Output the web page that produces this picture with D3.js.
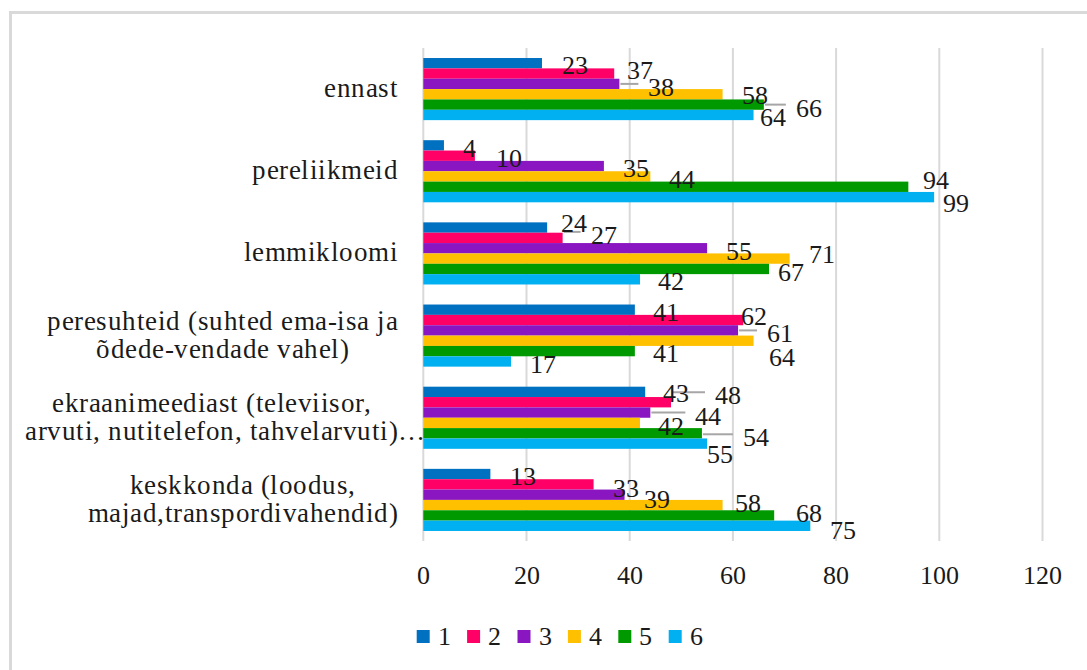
<!DOCTYPE html>
<html>
<head>
<meta charset="utf-8">
<script src="https://cdn.jsdelivr.net/npm/d3@7"></script>
<style>
  @font-face {
    font-family: 'ChartSerif';
    src: local('Liberation Serif'), local('LiberationSerif'), local('LiberationSerif-Regular'), local('Times New Roman');
  }
  body { margin: 0; }
  text { font-family: 'ChartSerif', 'Liberation Serif', serif; }
</style>
</head>
<body>
<div id="chart"></div>
<script>
const categories = [
  'ennast',
  'pereliikmeid',
  'lemmikloomi',
  'peresuhteid (suhted ema-isa ja\nõdede-vendade vahel)',
  'ekraanimeediast (televiisor,\narvuti, nutitelefon, tahvelarvuti)…',
  'keskkonda (loodus,\nmajad,transpordivahendid)'
];
const seriesNames = ['1', '2', '3', '4', '5', '6'];
const series1 = [23, 4, 24, 41, 43, 13];
const series2 = [37, 10, 27, 62, 48, 33];
const series3 = [38, 35, 55, 61, 44, 39];
const series4 = [58, 44, 71, 64, 42, 58];
const series5 = [66, 94, 67, 41, 54, 68];
const series6 = [64, 99, 42, 17, 55, 75];
const xTicks = [0, 20, 40, 60, 80, 100, 120];

const colors = ['#0070C0', '#FF0066', '#8A16C2', '#FFC000', '#009A00', '#00B0F0'];

// label placement as dragged in the original (px from bar end / bar middle)
const labelNudge = [
  [[20, 11], [13, 5], [29, 12], [19, 10], [32, 12], [6, 11]],
  [[19, 12], [21, 11], [19, 11], [19, 12], [15, 2], [9, 15]],
  [[14, 4], [28, 6], [19, 12], [19, 4], [9, 12], [18, 11]],
  [[18, 11], [-2, 5], [29, 12], [15, 25], [18, 11], [19, 12]],
  [[18, 10], [44, 2], [45, 12], [18, 12], [41, 13], [0, 19]],
  [[20, 11], [19, 13], [19, 13], [12, 7], [22, 7], [20, 13]]
];
// labels that got a leader line
const leaders = [[0, 2], [0, 4], [2, 1], [3, 2], [4, 1], [4, 2], [4, 4]];

const allSeries = [series1, series2, series3, series4, series5, series6];

const width = 1087, height = 670;
const fontSize = 26;

const svg = d3.select('#chart').append('svg')
  .attr('width', width)
  .attr('height', height);

// chart frame (only top/left edges are inside the picture)
svg.append('rect')
  .attr('x', 10.5).attr('y', 12.5)
  .attr('width', 1100).attr('height', 700)
  .attr('fill', 'none')
  .attr('stroke', '#D9D9D9')
  .attr('stroke-width', 3);

const plotTop = 48, plotBottom = 541;

const x = d3.scaleLinear().domain([0, 120]).range([423.3, 1042.5]);
const y = d3.scaleBand()
  .domain(d3.range(categories.length))
  .range([plotTop, plotBottom])
  .paddingInner(0.244)
  .paddingOuter(0.122);
const ySub = d3.scaleBand()
  .domain(d3.range(seriesNames.length))
  .range([0, y.bandwidth()]);

// gridlines
svg.selectAll('line.grid')
  .data(xTicks)
  .join('line')
  .attr('class', 'grid')
  .attr('x1', d => x(d)).attr('x2', d => x(d))
  .attr('y1', plotTop).attr('y2', plotBottom)
  .attr('stroke', '#D9D9D9')
  .attr('stroke-width', 2);

// bars
categories.forEach((c, i) => {
  allSeries.forEach((s, k) => {
    svg.append('rect')
      .attr('x', x(0))
      .attr('y', y(i) + ySub(k))
      .attr('width', x(s[i]) - x(0))
      .attr('height', ySub.bandwidth())
      .attr('fill', colors[k]);
  });
});

const labelPos = (cat, k) => {
  const v = allSeries[k][cat];
  const n = labelNudge[cat][k];
  return {
    x: x(v) + n[0],
    y: y(cat) + ySub(k) + ySub.bandwidth() / 2 + n[1],
    end: x(v)
  };
};

// leader lines
leaders.forEach(([c, k]) => {
  const p = labelPos(c, k);
  svg.append('line')
    .attr('x1', p.end + 1).attr('x2', p.x - 10)
    .attr('y1', p.y - 12).attr('y2', p.y - 12)
    .attr('stroke', '#A6A6A6')
    .attr('stroke-width', 2);
});

function addText(px, py, str, size, anchor) {
  return svg.append('text')
    .attr('x', px)
    .attr('y', py)
    .attr('font-size', size)
    .attr('text-anchor', anchor || 'start')
    .attr('fill', '#1a1a1a')
    .text(str);
}

// tick labels
xTicks.forEach(t => addText(x(t), 584, t, fontSize, 'middle'));

// data labels
categories.forEach((c, i) => {
  allSeries.forEach((s, k) => {
    const p = labelPos(i, k);
    addText(p.x, p.y, s[i], fontSize);
  });
});

// category labels, lines centred within the block, block right-aligned
const labelRight = 398;
const lineGap = 28;
categories.forEach((c, i) => {
  const lines = c.split('\n');
  const cy = y(i) + y.bandwidth() / 2;
  const texts = lines.map((ln, j) =>
    addText(0, cy + 8 + (j - (lines.length - 1) / 2) * lineGap, ln, 27, 'middle')
      .attr('letter-spacing', 0.5));
  // width without trailing ellipsis (it overflows in the original)
  const widths = texts.map((tx, j) => {
    const full = tx.node().getComputedTextLength();
    if (lines[j].endsWith('…')) {
      tx.text(lines[j].slice(0, -1));
      const w = tx.node().getComputedTextLength();
      tx.text(lines[j]);
      return { w, full };
    }
    return { w: full, full };
  });
  const maxW = d3.max(widths, d => d.w);
  const center = labelRight - maxW / 2;
  texts.forEach((tx, j) => {
    const extra = widths[j].full - widths[j].w;
    tx.attr('x', center + extra / 2);
  });
});

// legend
seriesNames.forEach((name, i) => {
  const lx = 416.7 + i * 50.4;
  svg.append('rect')
    .attr('x', lx).attr('y', 630)
    .attr('width', 13).attr('height', 13)
    .attr('fill', colors[i]);
  addText(lx + 21, 645, name, fontSize);
});
</script>
</body>
</html>
